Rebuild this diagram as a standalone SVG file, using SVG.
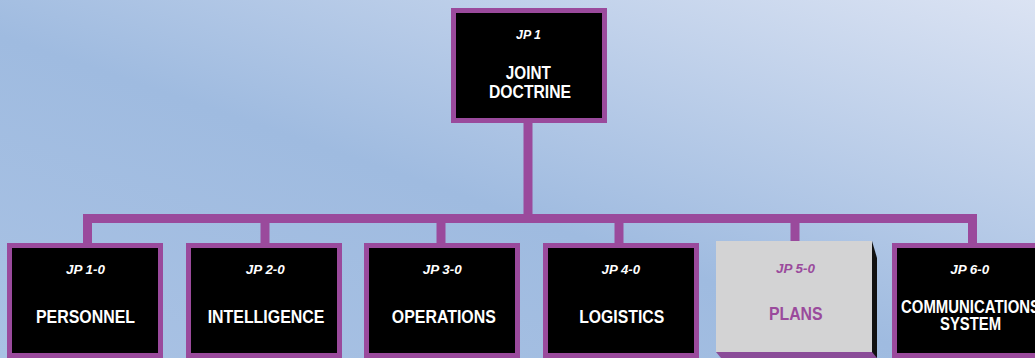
<svg xmlns="http://www.w3.org/2000/svg" width="1035" height="358" viewBox="0 0 1035 358">
  <defs>
    <linearGradient id="bg" x1="0" y1="1" x2="1" y2="0">
      <stop offset="0" stop-color="#a9c2e4"/>
      <stop offset="0.45" stop-color="#9fbbe0"/>
      <stop offset="1" stop-color="#dbe3f3"/>
    </linearGradient>
    <style>
      .box { fill: #000; stroke: #9a4a9c; stroke-width: 5; }
      .conn { stroke: #9a4a9c; stroke-width: 9; fill: none; stroke-linecap: butt; }
      .jp { font-family: "Liberation Sans", Arial, sans-serif; font-weight: bold; font-style: italic; font-size: 13px; fill: #fff; text-anchor: middle; }
      .lbl { font-family: "Liberation Sans", Arial, sans-serif; font-weight: bold; font-size: 19px; fill: #fff; text-anchor: middle; }
      .two { font-size: 18px; }
      .pur { fill: #9a4a9c; }
    </style>
  </defs>
  <rect x="0" y="0" width="1035" height="358" fill="url(#bg)"/>

  <g id="connectors">
    <line class="conn" x1="528" y1="122" x2="528" y2="219"/>
    <line class="conn" x1="83" y1="218.5" x2="977" y2="218.5"/>
    <line class="conn" x1="87.5" y1="218" x2="87.5" y2="244"/>
    <line class="conn" x1="265" y1="218" x2="265" y2="244"/>
    <line class="conn" x1="441" y1="218" x2="441" y2="244"/>
    <line class="conn" x1="619" y1="218" x2="619" y2="244"/>
    <line class="conn" x1="795" y1="218" x2="795" y2="242"/>
    <line class="conn" x1="972.5" y1="218" x2="972.5" y2="244"/>
  </g>

  <g id="jp1">
    <rect class="box" x="453.5" y="10.5" width="151" height="110"/>
    <text class="jp" x="528.5" y="39" textLength="25" lengthAdjust="spacingAndGlyphs">JP 1</text>
    <text class="lbl two" x="528.3" y="79" textLength="45" lengthAdjust="spacingAndGlyphs">JOINT</text>
    <text class="lbl two" x="530" y="97.5" textLength="82" lengthAdjust="spacingAndGlyphs">DOCTRINE</text>
  </g>

  <g id="jp1-0">
    <rect class="box" x="9.5" y="245.5" width="151" height="110"/>
    <text class="jp" x="85.5" y="274" textLength="39" lengthAdjust="spacingAndGlyphs">JP 1-0</text>
    <text class="lbl" x="85.5" y="322.5" textLength="99" lengthAdjust="spacingAndGlyphs">PERSONNEL</text>
  </g>

  <g id="jp2-0">
    <rect class="box" x="188.5" y="245.5" width="151" height="110"/>
    <text class="jp" x="265.3" y="274" textLength="39" lengthAdjust="spacingAndGlyphs">JP 2-0</text>
    <text class="lbl" x="266" y="322.5" textLength="116.7" lengthAdjust="spacingAndGlyphs">INTELLIGENCE</text>
  </g>

  <g id="jp3-0">
    <rect class="box" x="366.5" y="245.5" width="151" height="110"/>
    <text class="jp" x="442.2" y="274" textLength="39" lengthAdjust="spacingAndGlyphs">JP 3-0</text>
    <text class="lbl" x="443.8" y="322.5" textLength="104" lengthAdjust="spacingAndGlyphs">OPERATIONS</text>
  </g>

  <g id="jp4-0">
    <rect class="box" x="545.5" y="245.5" width="151" height="110"/>
    <text class="jp" x="620.8" y="274" textLength="38.5" lengthAdjust="spacingAndGlyphs">JP 4-0</text>
    <text class="lbl" x="621.7" y="322.5" textLength="85" lengthAdjust="spacingAndGlyphs">LOGISTICS</text>
  </g>

  <g id="jp5-0">
    <polygon points="872,241 877,258 877,358 872,358" fill="#111"/>
    <polygon points="716,352 872,352 877,358 721,358" fill="#8a4c98"/>
    <rect x="716" y="241" width="156" height="111" fill="#d3d3d4"/>
    <text class="jp pur" x="795.5" y="272.5" textLength="39" lengthAdjust="spacingAndGlyphs">JP 5-0</text>
    <text class="lbl pur" x="795.8" y="319.5" textLength="53.7" lengthAdjust="spacingAndGlyphs">PLANS</text>
  </g>

  <g id="jp6-0">
    <rect class="box" x="894.5" y="245.5" width="151" height="110"/>
    <text class="jp" x="969.7" y="274" textLength="39" lengthAdjust="spacingAndGlyphs">JP 6-0</text>
    <text class="lbl two" x="970.5" y="312.7" textLength="139" lengthAdjust="spacingAndGlyphs">COMMUNICATIONS</text>
    <text class="lbl two" x="970.5" y="330" textLength="61" lengthAdjust="spacingAndGlyphs">SYSTEM</text>
  </g>
</svg>
